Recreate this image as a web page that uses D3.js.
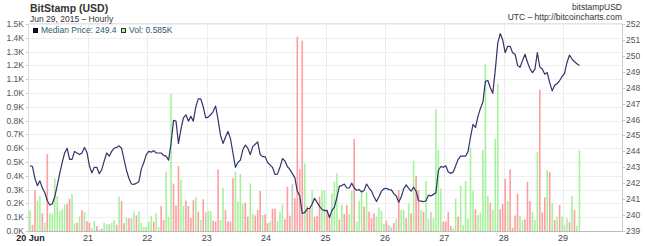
<!DOCTYPE html>
<html><head><meta charset="utf-8">
<script src="https://cdn.jsdelivr.net/npm/d3@7"></script>
<style>body{margin:0;background:#fff}svg{display:block}text{font-family:"Liberation Sans",Arial,sans-serif}</style>
</head><body><div id="c"></div>
<script>
// ---- data ----
const startTime = "2015-06-20T00:00:00Z";
const endTime = "2015-06-30T00:00:00Z";
const dayTicks = ["20 Jun","21","22","23","24","25","26","27","28","29"];
const volTicks = [0,100,200,300,400,500,600,700,800,900,1000,1100,1200,1300,1400,1500];
const priceTicks = [239,240,241,242,243,244,245,246,247,248,249,250,251,252];
const price = [
243.1,243.05,242.3,241.85,242.15,241.7,241.4,240.9,240.63,240.7,
241.15,241.85,242.6,243.3,243.9,244.2,243.5,243.5,244.0,243.9,
243.8,243.9,244.25,243.95,243.1,242.65,243.0,243.0,242.6,242.85,
243.4,243.9,243.7,244.0,244.2,244.25,244.35,244.2,243.5,242.8,
242.3,241.95,241.93,242.0,242.1,242.9,243.3,243.8,244.0,243.95,
244.05,243.9,243.9,243.9,243.75,243.7,243.45,244.5,245.95,245.9,
244.5,245.4,246.1,246.3,245.9,246.2,245.9,246.8,247.3,247.3,
246.8,246.1,246.15,246.3,246.5,246.85,246.0,245.0,244.5,244.9,
245.25,244.8,243.9,243.0,243.3,243.45,244.1,244.4,244.2,243.8,
244.3,244.45,244.6,243.8,243.67,243.67,243.3,243.15,243.0,242.55,
242.57,243.0,243.55,243.4,243.05,242.87,242.6,242.35,241.5,241.2,
240.1,240.15,240.4,240.42,240.7,241.05,240.8,240.55,240.35,240.28,
240.3,239.85,240.3,240.5,241.1,241.8,241.85,241.95,241.7,241.7,
242.0,241.7,241.56,241.6,241.45,241.55,241.95,241.7,241.5,241.15,
240.85,241.15,241.5,241.65,241.68,241.6,241.58,241.35,241.2,240.8,
241.15,241.65,241.9,241.68,241.5,241.75,241.5,240.9,240.88,240.84,
240.9,241.25,241.2,241.3,241.4,242.8,243.05,243.0,243.1,242.7,
242.62,242.7,243.1,243.5,243.7,243.7,243.7,244.0,244.9,245.7,
245.5,246.2,246.7,247.1,248.4,248.45,248.0,247.65,249.1,250.8,
251.4,251.0,250.2,250.6,250.6,250.2,250.1,249.4,249.28,249.7,
250.1,249.6,249.2,248.94,249.15,250.2,249.3,249.18,248.85,248.95,
248.3,247.8,248.15,248.26,248.45,248.7,248.9,249.6,250.05,249.8,
249.63,249.5,249.4];
const volume = [
147,43,297,220,254,128,60,556,128,125,
382,254,142,157,191,196,234,268,56,60,
104,152,138,72,60,19,72,36,12,17,
60,51,48,60,80,46,249,217,56,97,
92,94,142,113,142,60,31,31,68,111,
68,128,27,181,80,430,104,993,343,185,
471,370,181,220,181,94,222,244,140,80,
230,134,145,145,75,68,447,80,314,152,
70,68,382,430,213,413,196,205,104,345,
128,113,152,290,116,121,56,68,162,162,
72,140,193,85,321,111,340,240,1408,450,
1379,490,181,164,297,104,109,249,293,297,
152,104,273,357,418,85,188,123,188,121,
292,667,68,220,297,176,280,140,92,128,
104,171,147,51,75,43,27,58,85,297,
152,152,92,200,128,510,399,297,152,140,
362,90,140,92,884,587,309,68,68,140,
37,19,237,104,329,43,362,90,600,292,
157,116,133,587,1208,254,205,152,667,1065,
159,196,377,217,447,24,113,268,109,80,
85,357,217,135,80,570,1024,135,244,442,
428,200,80,104,188,104,46,90,64,254,
152,37,585];
// bar direction per hour: g = up, r = down, n = unchanged
const direction =
 "grrggrgrgg"+"gggggrrggr"+"grgrrggrgr"+"ggnggrgrrg"+"rngrgggggg"+
 "rggrrgggrr"+"rggrrrrgrg"+"rnggrrrggr"+"rrrggggrrg"+"grrrgrrgrr"+
 "gggrrrnrrr"+"rgrrgrrrgg"+"rrgggrgrrg"+"grgggrgrrr"+"ggggrnnrgr"+
 "ggrgrgrrgr"+"ggnggggrrr"+"rggrgggggg"+"rgggggrggg"+"rrrgrrrrgg"+
 "rrrgggrrrg"+"rgrgrgggrg"+"rgg";
const lastPrice = "249.4", lastVol = "0.585K";

// ---- chart ----
const W = 645, H = 246;
const L = 28.5, R = 622.5, T = 24, B = 231;
const svg = d3.select("#c").append("svg").attr("width", W).attr("height", H);
svg.append("rect").attr("width", W).attr("height", H).attr("fill", "#fff");

const t0 = new Date(startTime), t1 = new Date(endTime);
const x = d3.scaleUtc().domain([t0, t1]).range([L, R]);
const yV = d3.scaleLinear().domain([0, 1500]).range([B, T]);
const yP = d3.scaleLinear().domain([239, 252]).range([B, T]);
const HOUR = 3600e3;
const tAt = i => new Date(t0.getTime() + (i + 0.6) * HOUR);
const days = d3.utcDay.range(t0, t1);

// grid
const g = svg.append("g");
g.selectAll(".hg").data(volTicks).join("line")
  .attr("x1", L).attr("x2", R).attr("y1", d => Math.round(yV(d)) + 0.5).attr("y2", d => Math.round(yV(d)) + 0.5)
  .attr("stroke", "#efefef");
g.selectAll(".vg").data(days.slice(1)).join("line")
  .attr("x1", d => Math.round(x(d)) + 0.5).attr("x2", d => Math.round(x(d)) + 0.5).attr("y1", T).attr("y2", B)
  .attr("stroke", "#ececec");

// bars
const colors = { g: "#a6f29c", r: "#ff9e9e", n: "#c8c8c8" };
svg.append("g").selectAll("rect").data(volume).join("rect")
  .attr("x", (d, i) => x(tAt(i)) - 0.8)
  .attr("width", 1.6)
  .attr("y", d => yV(d))
  .attr("height", d => B - yV(d))
  .attr("fill", (d, i) => colors[direction[i]]);

// price line
svg.append("path").datum(price)
  .attr("d", d3.line().x((d, i) => x(tAt(i))).y(d => yP(d)))
  .attr("fill", "none").attr("stroke", "#33336b").attr("stroke-width", 1.2).attr("stroke-linejoin", "round");

// axes
const ax = svg.append("g").attr("fill", "#555").attr("font-size", 8.5);
svg.append("line").attr("x1", L).attr("x2", L).attr("y1", T).attr("y2", B).attr("stroke", "#ddd");
svg.append("line").attr("x1", R).attr("x2", R).attr("y1", T).attr("y2", B).attr("stroke", "#ccc");
svg.append("line").attr("x1", L).attr("x2", R).attr("y1", B + 0.5).attr("y2", B + 0.5).attr("stroke", "#bbb");
svg.append("line").attr("x1", L).attr("x2", R).attr("y1", T - 0.5).attr("y2", T - 0.5).attr("stroke", "#e4e4e4");
ax.selectAll(".lt").data(volTicks).join("text")
  .attr("x", 24).attr("y", d => yV(d) + 3).attr("text-anchor", "end")
  .text(d => (d / 1000).toFixed(1) + "K");
ax.selectAll(".ltk").data(volTicks).join("line")
  .attr("x1", 25.5).attr("x2", L).attr("y1", d => Math.round(yV(d)) + 0.5).attr("y2", d => Math.round(yV(d)) + 0.5).attr("stroke", "#ccc");
ax.selectAll(".rt").data(priceTicks).join("text")
  .attr("x", 626).attr("y", d => yP(d) + 3).attr("text-anchor", "start")
  .text(d => d);
ax.selectAll(".rtk").data(priceTicks).join("line")
  .attr("x1", R).attr("x2", R + 3).attr("y1", d => Math.round(yP(d)) + 0.5).attr("y2", d => Math.round(yP(d)) + 0.5).attr("stroke", "#ccc");
ax.selectAll(".bt").data(days).join("text")
  .attr("x", (d, i) => x(d) + (i === 0 ? 2 : 0)).attr("y", 241).attr("text-anchor", "middle")
  .attr("font-size", 9)
  .attr("fill", (d, i) => i === 0 ? "#222" : "#444")
  .attr("font-weight", (d, i) => i === 0 ? "bold" : "normal")
  .text((d, i) => dayTicks[i]);

// titles
svg.append("text").attr("x", 30).attr("y", 12).attr("font-size", 10.5).attr("font-weight", "bold").attr("fill", "#333").text("BitStamp (USD)");
svg.append("text").attr("x", 30).attr("y", 22).attr("font-size", 8.5).attr("fill", "#333").text("Jun 29, 2015 \u2013 Hourly");
svg.append("text").attr("x", 622).attr("y", 10).attr("font-size", 8.5).attr("fill", "#333").attr("text-anchor", "end").text("bitstampUSD");
svg.append("text").attr("x", 622).attr("y", 20).attr("font-size", 8.5).attr("fill", "#333").attr("text-anchor", "end").text("UTC \u2013 http://bitcoincharts.com");

// legend
const lg = svg.append("g").attr("font-size", 8.5).attr("fill", "#2a5c6b");
lg.append("rect").attr("x", 33.5).attr("y", 28.5).attr("width", 4).attr("height", 4).attr("fill", "#0d0d3a").attr("stroke", "#000");
lg.append("text").attr("x", 41).attr("y", 33).text("Median Price: " + lastPrice);
lg.append("rect").attr("x", 121.5).attr("y", 28.5).attr("width", 4).attr("height", 4).attr("fill", "#a6f29c").attr("stroke", "#333");
lg.append("text").attr("x", 129).attr("y", 33).text("Vol: " + lastVol);
</script></body></html>
